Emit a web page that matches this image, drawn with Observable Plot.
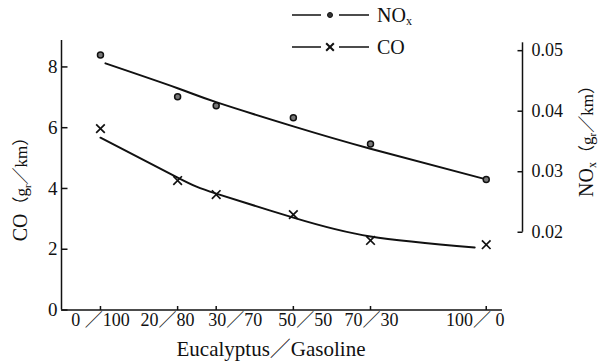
<!DOCTYPE html>
<html><head><meta charset="utf-8">
<script src="https://cdn.jsdelivr.net/npm/d3@7"></script>
<script src="https://cdn.jsdelivr.net/npm/@observablehq/plot@0.6"></script>
<style>
body{margin:0;background:#fff}
</style>
</head><body><div id="chart"></div>
<script>
// ---- data ----
const blendPct = [0, 20, 30, 50, 70, 100];
const blendLabels = ["0 ／100", "20／80", "30／70", "50／50", "70／30", "100／ 0"];
const noxMeasured = [0.0493, 0.0424, 0.0409, 0.0389, 0.0346, 0.0287];
const coMeasured = [5.97, 4.26, 3.80, 3.14, 2.29, 2.15];
const noxFitPct = [1.3, 20, 30, 50, 70, 99];
const noxFit = [0.0479, 0.0438, 0.0415, 0.0375, 0.0338, 0.0289];
const coFitPct = [0, 20, 30, 50, 70, 97];
const coFit = [5.67, 4.36, 3.83, 3.04, 2.42, 2.06];
const coTicks = [0, 2, 4, 6, 8];
const noxTicks = [0.02, 0.03, 0.04, 0.05];
const noxTickLabels = ["0.02", "0.03", "0.04", "0.05"];
const legendSeries = ["NOx", "CO"];

// layout: horizontal nudges (px) of the crowded x tick labels, as in the original
const xLabelNudge = [0, -10, 19, 12, 1, -11];

// axis extents
const xDomain = [-10.1, 109.4];
const xAxisEnd = 104.2;
const yDomain = [0, 8.87];
const noxAxisRange = [0.02, 0.0513];
// NOx (right axis) expressed in CO units
const toCO = v => 2.559 + (v - 0.02) * 199.2;

const W = 598, H = 362;
const black = "#111";
const FONT = '"Liberation Serif", "Noto Sans CJK SC", serif';

const tickRight = {draw(ctx){ ctx.moveTo(0,0); ctx.lineTo(6,0); }};
const tickLeft  = {draw(ctx){ ctx.moveTo(0,0); ctx.lineTo(-5,0); }};
const tickUp    = {draw(ctx){ ctx.moveTo(0,0); ctx.lineTo(0,-4); }};

const noxPts = blendPct.map((p,i)=>({x:p, y:toCO(noxMeasured[i])}));
const coPts = blendPct.map((p,i)=>({x:p, y:coMeasured[i]}));
const noxLine = noxFitPct.map((p,i)=>({x:p, y:toCO(noxFit[i])}));
const coLine = coFitPct.map((p,i)=>({x:p, y:coFit[i]}));

const xLabelMarks = blendPct.map((p,i) =>
  Plot.text([p], {x: d=>d, frameAnchor: "bottom", text: () => blendLabels[i], dy: 16, dx: xLabelNudge[i],
    fontSize: 18, fill: black, fontFamily: FONT}));

const chart = Plot.plot({
  width: W, height: H,
  marginLeft: 61, marginRight: 76, marginTop: 40, marginBottom: 52.5,
  style: {fontFamily: FONT, background: "#fff", color: black},
  x: {domain: xDomain, axis: null},
  y: {domain: yDomain, axis: null},
  marks: [
    // axis lines
    Plot.ruleX([xDomain[0]], {stroke: black, strokeWidth: 1.5}),
    Plot.ruleY([0], {x1: xDomain[0], x2: xAxisEnd, stroke: black, strokeWidth: 1.5}),
    Plot.ruleX([xDomain[1]], {y1: toCO(noxAxisRange[0]), y2: toCO(noxAxisRange[1]), stroke: black, strokeWidth: 1.5}),
    // ticks
    Plot.dot(coTicks, {y: d=>d, frameAnchor: "left", symbol: tickRight, stroke: black, strokeWidth: 1.5}),
    Plot.dot(blendPct, {x: d=>d, frameAnchor: "bottom", symbol: tickUp, stroke: black, strokeWidth: 1.5}),
    Plot.dot(noxTicks, {y: d=>toCO(d), frameAnchor: "right", symbol: tickLeft, stroke: black, strokeWidth: 1.5}),
    // tick labels
    Plot.text(coTicks, {y: d=>d, frameAnchor: "left", text: d=>String(d), textAnchor: "end", dx: -4, fontSize: 19, fill: black, fontFamily: FONT}),
    ...xLabelMarks,
    Plot.text(noxTicks, {y: d=>toCO(d), frameAnchor: "right", text: (d,i)=>noxTickLabels[i], textAnchor: "start", dx: 9, fontSize: 18, fill: black, letterSpacing: 0.6, fontFamily: FONT}),
    // fitted curves
    Plot.line(noxLine, {x: "x", y: "y", curve: "natural", stroke: black, strokeWidth: 2}),
    Plot.line(coLine, {x: "x", y: "y", curve: "natural", stroke: black, strokeWidth: 2}),
    // measured points
    Plot.dot(noxPts, {x: "x", y: "y", r: 3, fill: "#777", stroke: black, strokeWidth: 1.5}),
    Plot.dot(coPts, {x: "x", y: "y", r: 4, symbol: "times", stroke: black, strokeWidth: 1.7})
  ]
});
document.getElementById("chart").appendChild(chart);

const svg = d3.select(chart);
// left axis title
{
  const t = svg.append("text").attr("transform", "translate(27,185) rotate(-90)")
    .attr("text-anchor", "middle").attr("fill", black).attr("font-family", FONT);
  t.append("tspan").attr("font-size", 20).text("CO");
  t.append("tspan").attr("font-size", 17).text("（g");
  t.append("tspan").attr("font-size", 11).attr("dy", 4).text("r");
  t.append("tspan").attr("font-size", 17).attr("dy", -4).text("／km）");
}
// right axis title
{
  const t = svg.append("text").attr("transform", "translate(593,137) rotate(-90)")
    .attr("text-anchor", "middle").attr("fill", black).attr("font-family", FONT);
  t.append("tspan").attr("font-size", 20).text("NO");
  t.append("tspan").attr("font-size", 12).attr("dy", 3).text("x");
  t.append("tspan").attr("font-size", 17).attr("dy", -3).text("（g");
  t.append("tspan").attr("font-size", 11).attr("dy", 3).text("r");
  t.append("tspan").attr("font-size", 17).attr("dy", -3).text("／km）");
}
// x axis title
svg.append("text").attr("x", 271).attr("y", 356).attr("text-anchor", "middle").attr("font-family", FONT)
  .attr("font-size", 21).attr("fill", black).text("Eucalyptus／Gasoline");

// legend
const legendRows = [
  {y: 15, name: legendSeries[0], marker: "dot"},
  {y: 47, name: legendSeries[1], marker: "x"}
];
legendRows.forEach(r => {
  const g = svg.append("g");
  g.append("line").attr("x1", 292).attr("x2", 321).attr("y1", r.y).attr("y2", r.y).attr("stroke", black).attr("stroke-width", 1.5);
  g.append("line").attr("x1", 339).attr("x2", 369).attr("y1", r.y).attr("y2", r.y).attr("stroke", black).attr("stroke-width", 1.5);
  if (r.marker === "dot") {
    g.append("circle").attr("cx", 330).attr("cy", r.y).attr("r", 2.5).attr("fill", "#333").attr("stroke", black);
  } else {
    g.append("path").attr("transform", `translate(330,${r.y})`)
      .attr("d", d3.symbol(d3.symbolTimes, 40)()).attr("stroke", black).attr("stroke-width", 2).attr("fill", "none");
  }
  const t = g.append("text").attr("x", 377).attr("y", r.y + 7).attr("fill", black)
    .attr("font-size", 20).attr("text-anchor", "start").attr("font-family", FONT);
  if (r.name === "NOx") {
    t.append("tspan").text("NO");
    t.append("tspan").attr("font-size", 12).attr("dy", 3).text("x");
  } else {
    t.text(r.name);
  }
});
</script>
</body></html>
